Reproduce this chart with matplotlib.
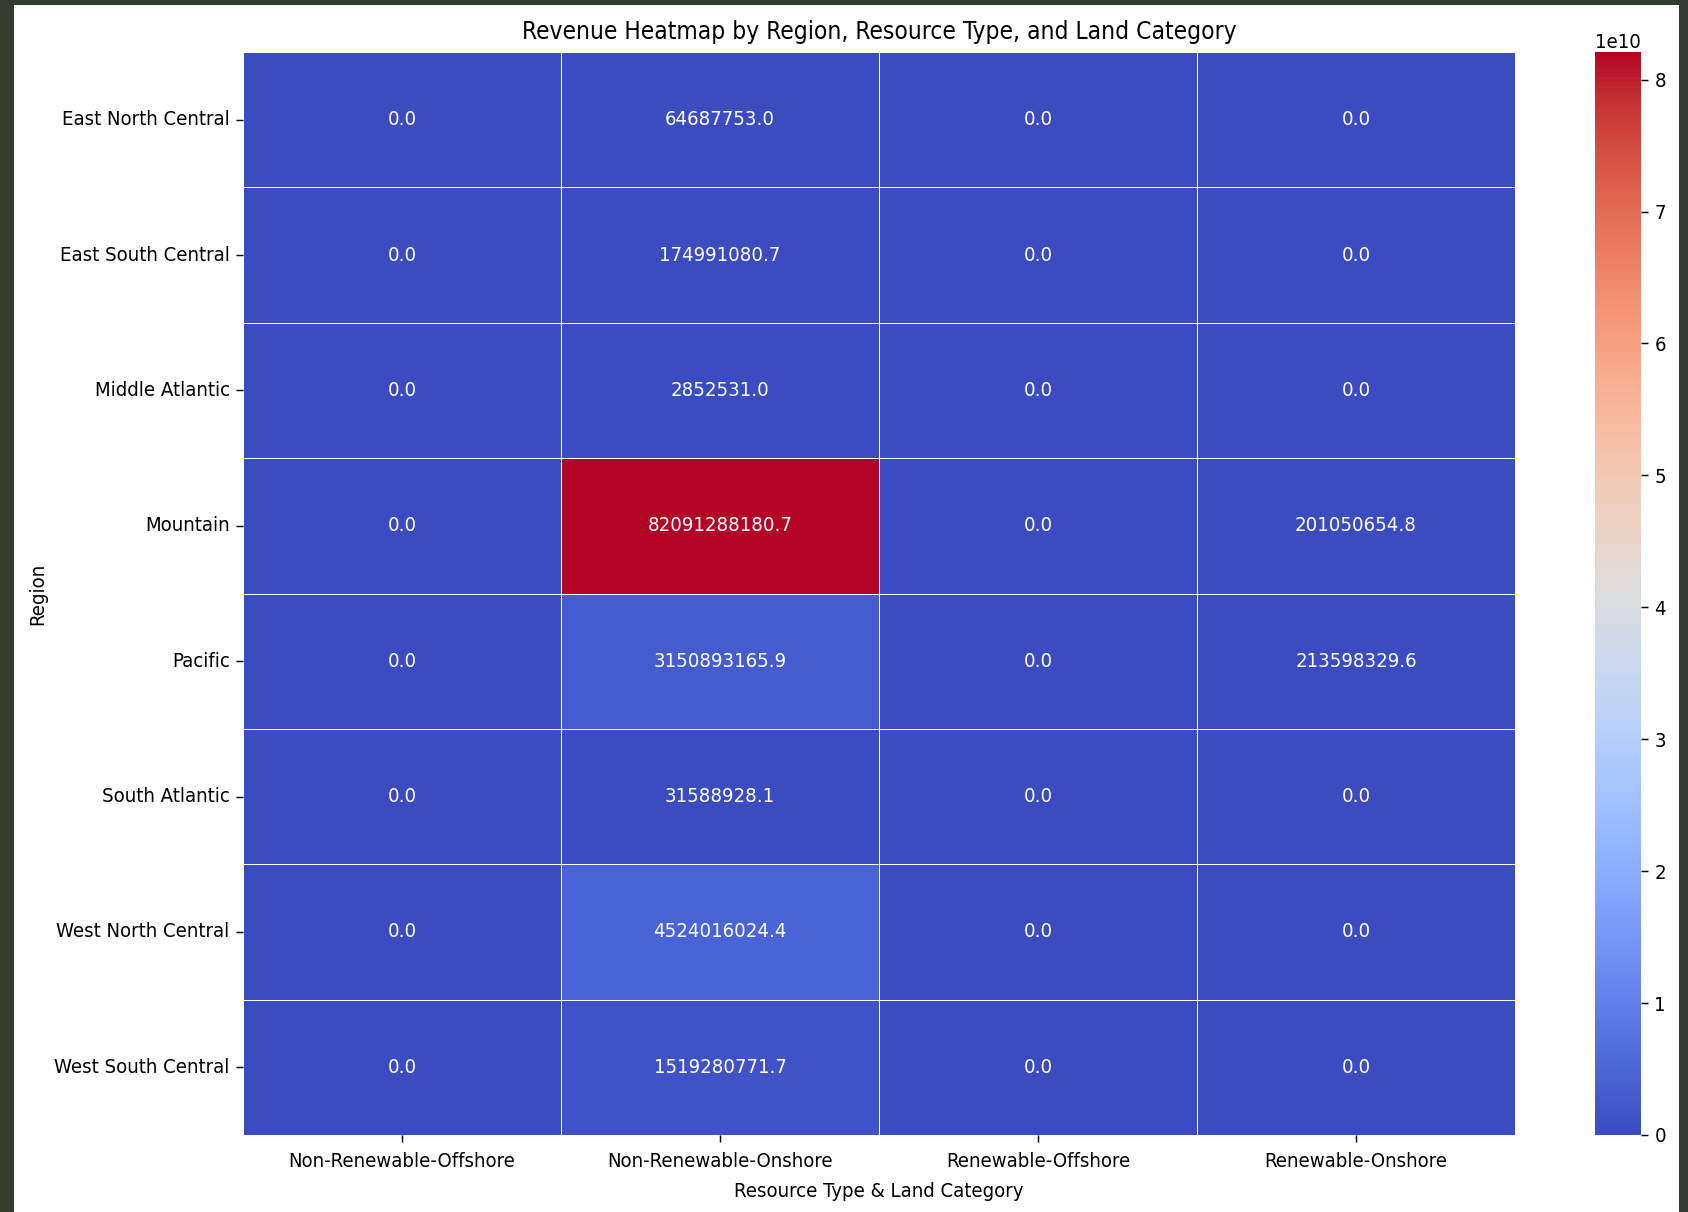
import numpy as np
import pandas as pd
import matplotlib
matplotlib.use("Agg")
import matplotlib.pyplot as plt
import seaborn as sns
from matplotlib.patches import Rectangle

# === DATA ===
regions = ["East North Central", "East South Central", "Middle Atlantic", "Mountain",
           "Pacific", "South Atlantic", "West North Central", "West South Central"]
categories = ["Non-Renewable-Offshore", "Non-Renewable-Onshore",
              "Renewable-Offshore", "Renewable-Onshore"]

non_renewable_offshore = [0.0, 0.0, 0.0, 0.0, 0.0, 0.0, 0.0, 0.0]
non_renewable_onshore = [64687753.0, 174991080.7, 2852531.0, 82091288180.7,
                         3150893165.9, 31588928.1, 4524016024.4, 1519280771.7]
renewable_offshore = [0.0, 0.0, 0.0, 0.0, 0.0, 0.0, 0.0, 0.0]
renewable_onshore = [0.0, 0.0, 0.0, 201050654.8, 213598329.6, 0.0, 0.0, 0.0]

pivot = pd.DataFrame(
    np.column_stack([non_renewable_offshore, non_renewable_onshore,
                     renewable_offshore, renewable_onshore]),
    index=regions, columns=categories)

# === PLOT ===
FS = 14.6  # base font size
plt.rcParams["font.family"] = ["DejaVu Sans"]
plt.rcParams["font.stretch"] = "condensed"
plt.rcParams["font.size"] = FS
for k in ("xtick", "ytick"):
    plt.rcParams[f"{k}.major.size"] = 5
    plt.rcParams[f"{k}.major.width"] = 1.05
    plt.rcParams[f"{k}.major.pad"] = 4.6
plt.rcParams["xtick.major.pad"] = 7.5

W, H = 1688, 1212
fig = plt.figure(figsize=(W / 100, H / 100), dpi=100, facecolor="#323d30")
# white canvas inside the dark frame
fig.patches.append(Rectangle((14 / W, 0), (1679 - 14) / W, 1 - 5 / H,
                             transform=fig.transFigure, facecolor="white",
                             edgecolor="none", zorder=-1))

ax = fig.add_axes([243 / W, 1 - 1135 / H, (1515 - 243) / W, (1135 - 52) / H])
cax = fig.add_axes([1595 / W, 1 - 1135 / H, (1641 - 1595) / W, (1135 - 52) / H])

sns.heatmap(pivot, annot=True, fmt=".1f", cmap="coolwarm", linewidths=0.7,
            linecolor="white", ax=ax, cbar_ax=cax, annot_kws={"fontsize": FS})

ax.set_title("Revenue Heatmap by Region, Resource Type, and Land Category",
             fontsize=17.6, pad=9)
ax.set_xlabel("Resource Type & Land Category", fontsize=FS, labelpad=8)
ax.set_ylabel("Region", fontsize=FS, labelpad=5)
ax.tick_params(axis="both", labelsize=FS)
plt.setp(ax.get_yticklabels(), rotation=0)
plt.setp(ax.get_xticklabels(), rotation=0)
cax.tick_params(labelsize=FS)
cax.yaxis.get_offset_text().set_fontsize(FS)

fig.savefig("out.png", dpi=100, facecolor=fig.get_facecolor())
